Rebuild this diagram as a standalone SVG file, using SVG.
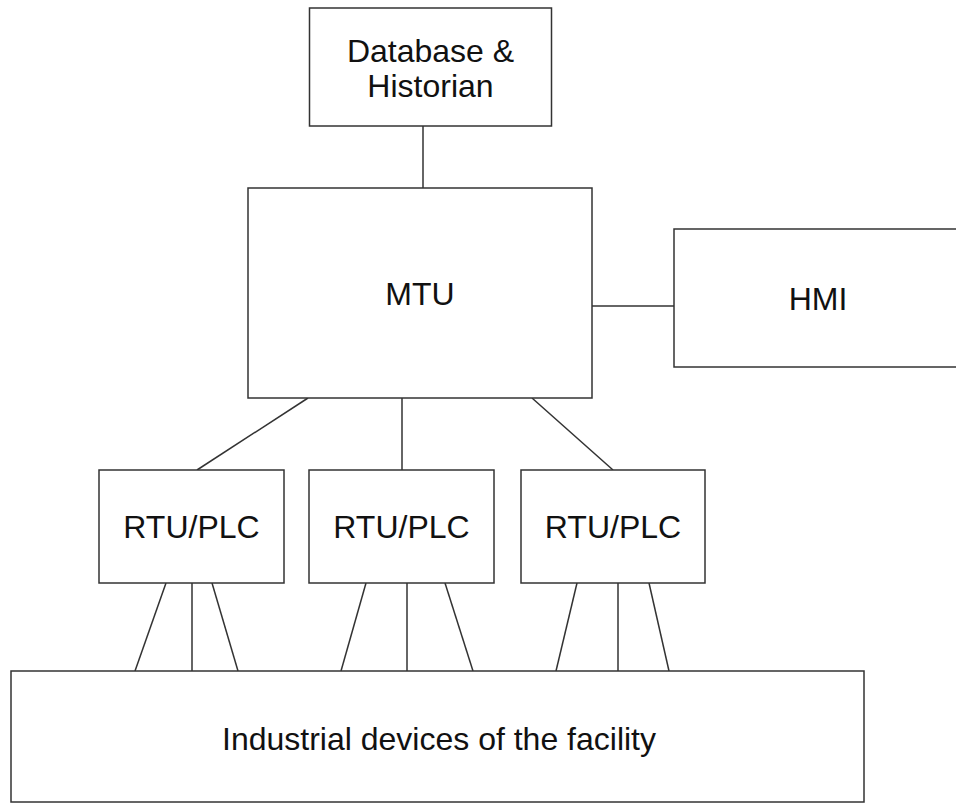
<svg xmlns="http://www.w3.org/2000/svg" width="956" height="804" viewBox="0 0 956 804">
<style>
.box{fill:#fff;stroke:#333;stroke-width:1.5}
.lbl{font-family:"Liberation Sans",Arial,sans-serif;font-size:32px;fill:#111;text-anchor:middle}
.conn line{stroke:#333;stroke-width:1.5}
</style>
<rect width="956" height="804" fill="#fff"/>
<g id="connectors" class="conn">
<line x1="423" y1="126" x2="423" y2="188"/>
<line x1="592" y1="306" x2="674" y2="306"/>
<line x1="308" y1="398" x2="197" y2="470"/>
<line x1="402" y1="398" x2="402" y2="470"/>
<line x1="532" y1="398" x2="613" y2="470"/>
<line x1="166" y1="583" x2="135" y2="671"/>
<line x1="192" y1="583" x2="192" y2="671"/>
<line x1="212" y1="583" x2="238" y2="671"/>
<line x1="366" y1="583" x2="341" y2="671"/>
<line x1="407" y1="583" x2="407" y2="671"/>
<line x1="445" y1="583" x2="473" y2="671"/>
<line x1="577" y1="583" x2="556" y2="671"/>
<line x1="618" y1="583" x2="618" y2="671"/>
<line x1="649" y1="583" x2="669" y2="671"/>
</g>
<g id="database">
<rect class="box" x="309.5" y="8" width="242" height="118"/>
<text class="lbl" x="430.5" y="62">Database &amp;</text>
<text class="lbl" x="430.5" y="97">Historian</text>
</g>
<g id="mtu">
<rect class="box" x="248" y="188" width="344" height="210"/>
<text class="lbl" x="420" y="305">MTU</text>
</g>
<g id="hmi">
<rect class="box" x="674" y="229" width="290" height="138"/>
<text class="lbl" x="818" y="310">HMI</text>
</g>
<g id="rtu1">
<rect class="box" x="99" y="470" width="185" height="113"/>
<text class="lbl" x="191.5" y="538">RTU/PLC</text>
</g>
<g id="rtu2">
<rect class="box" x="309" y="470" width="185" height="113"/>
<text class="lbl" x="401.5" y="538">RTU/PLC</text>
</g>
<g id="rtu3">
<rect class="box" x="521" y="470" width="184" height="113"/>
<text class="lbl" x="613" y="538">RTU/PLC</text>
</g>
<g id="devices">
<rect class="box" x="11" y="671" width="853" height="131"/>
<text class="lbl" x="439" y="750">Industrial devices of the facility</text>
</g>
</svg>
